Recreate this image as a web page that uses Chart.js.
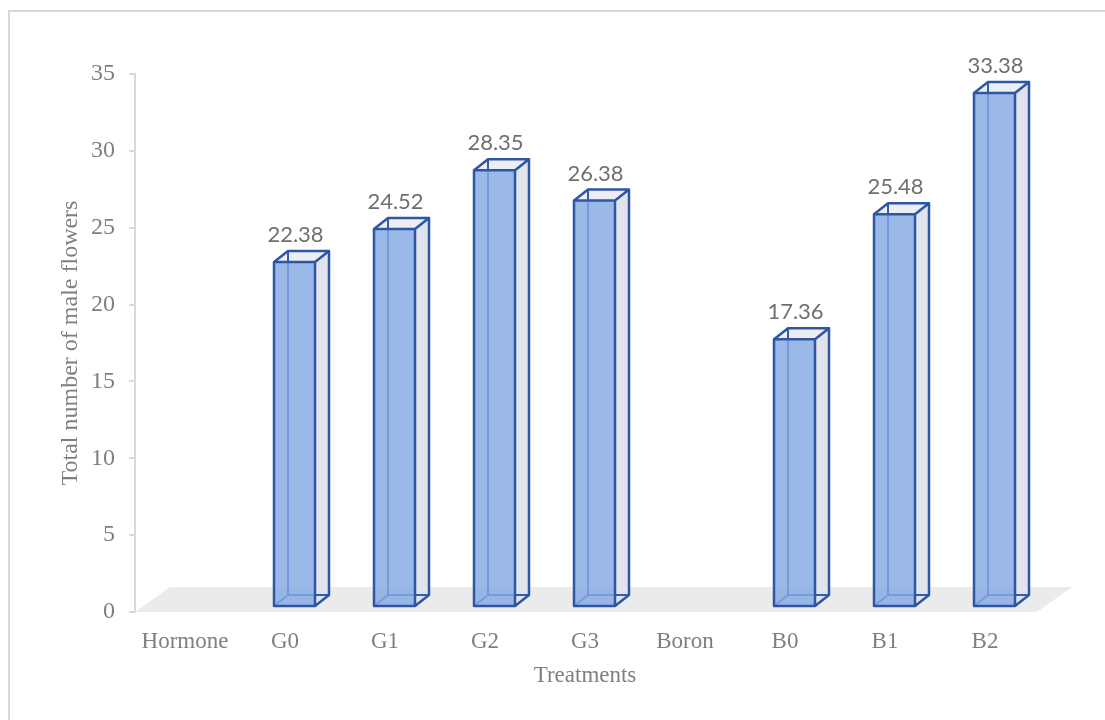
<!DOCTYPE html>
<html>
<head>
<meta charset="utf-8">
<title>Total number of male flowers by treatment</title>
<script src="https://cdn.jsdelivr.net/npm/chart.js@4.4.1/dist/chart.umd.min.js"></script>
<style>
  html, body { margin: 0; padding: 0; background: #ffffff; }
  #wrap { position: relative; width: 1105px; height: 720px; overflow: hidden; }
  #frame { position: absolute; left: 8px; top: 10px; width: 1200px; height: 800px;
           border: 2px solid #d9d9d9; box-sizing: border-box; pointer-events: none; }
  canvas { position: absolute; left: 0; top: 0; }
</style>
</head>
<body>
<div id="wrap">
  <div id="frame"></div>
  <canvas id="chart" width="1105" height="720"></canvas>
</div>
<script>
// Treatments on the x axis; the group headings carry no bar
const categories = ['Hormone', 'G0', 'G1', 'G2', 'G3', 'Boron', 'B0', 'B1', 'B2'];
const maleFlowers = [null, 22.38, 24.52, 28.35, 26.38, null, 17.36, 25.48, 33.38];
const yTicks = [0, 5, 10, 15, 20, 25, 30, 35];

const serif = '"Liberation Serif", "Times New Roman", serif';
const axisGray = '#7f7f7f';

// Draws the grey floor and the oblique 3D boxes on top of the library's bar geometry
const columns3d = {
  id: 'columns3d',
  beforeDatasetsDraw(chart) {
    const { ctx, chartArea: a, scales: { x, y } } = chart;
    const base = y.getPixelForValue(0);
    const cw = x.getPixelForValue(1) - x.getPixelForValue(0);
    const depthX = 0.35 * cw, depthY = 0.25 * cw;
    ctx.save();
    ctx.fillStyle = '#ebebeb';
    ctx.beginPath();
    ctx.moveTo(a.left, base);
    ctx.lineTo(a.right + 2, base);
    ctx.lineTo(a.right + 2 + depthX, base - depthY);
    ctx.lineTo(a.left + depthX, base - depthY);
    ctx.closePath();
    ctx.fill();
    ctx.restore();
  },
  afterDatasetsDraw(chart) {
    const { ctx, scales: { x, y } } = chart;
    const meta = chart.getDatasetMeta(0);
    const values = chart.data.datasets[0].data;
    const cw = x.getPixelForValue(1) - x.getPixelForValue(0);
    const lift = 6;
    const dx = 0.14 * cw, dy = -0.11 * cw;
    ctx.save();
    ctx.lineJoin = 'round';
    meta.data.forEach((el, i) => {
      const v = values[i];
      if (v === null || v === undefined) return;
      const cx = el.x;
      const fl = cx - 0.11 * cw, fr = cx + 0.30 * cw;
      const yt = y.getPixelForValue(v) - lift;
      const yb = y.getPixelForValue(0) - lift;

      // right side face
      ctx.fillStyle = '#e1e4ec';
      ctx.beginPath();
      ctx.moveTo(fr, yt); ctx.lineTo(fr + dx, yt + dy);
      ctx.lineTo(fr + dx, yb + dy); ctx.lineTo(fr, yb);
      ctx.closePath(); ctx.fill();

      // top face
      ctx.fillStyle = '#eceef4';
      ctx.beginPath();
      ctx.moveTo(fl, yt); ctx.lineTo(fl + dx, yt + dy);
      ctx.lineTo(fr + dx, yt + dy); ctx.lineTo(fr, yt);
      ctx.closePath(); ctx.fill();

      // back edges seen through the translucent front
      ctx.strokeStyle = '#2f5cb5';
      ctx.lineWidth = 2;
      ctx.beginPath();
      ctx.moveTo(fl + dx, yt + dy); ctx.lineTo(fl + dx, yb + dy);
      ctx.lineTo(fr + dx, yb + dy);
      ctx.moveTo(fl, yb); ctx.lineTo(fl + dx, yb + dy);
      ctx.stroke();

      // front face
      ctx.fillStyle = 'rgba(132, 169, 228, 0.82)';
      ctx.fillRect(fl, yt, fr - fl, yb - yt);

      // visible outline
      ctx.strokeStyle = '#2f56a3';
      ctx.lineWidth = 2.5;
      ctx.beginPath();
      ctx.rect(fl, yt, fr - fl, yb - yt);
      ctx.moveTo(fl, yt); ctx.lineTo(fl + dx, yt + dy);
      ctx.lineTo(fr + dx, yt + dy); ctx.lineTo(fr, yt);
      ctx.moveTo(fr + dx, yt + dy); ctx.lineTo(fr + dx, yb + dy);
      ctx.lineTo(fr, yb);
      ctx.stroke();

      // value label
      ctx.fillStyle = '#6f6f6f';
      ctx.font = '22px Lato, "Open Sans", sans-serif';
      ctx.textAlign = 'center';
      ctx.textBaseline = 'alphabetic';
      ctx.fillText(v.toFixed(2), (fl + fr) / 2 + 1, yt + dy - 9);
    });
    ctx.restore();
  }
};

new Chart(document.getElementById('chart'), {
  type: 'bar',
  data: {
    labels: categories,
    datasets: [{
      label: 'Total number of male flowers',
      data: maleFlowers,
      backgroundColor: 'rgba(0,0,0,0)',
      borderWidth: 0
    }]
  },
  options: {
    responsive: false,
    animation: false,
    devicePixelRatio: 1,
    layout: { padding: { left: 0, right: 70, top: 74, bottom: 0 } },
    plugins: { legend: { display: false }, tooltip: { enabled: false } },
    scales: {
      x: {
        grid: { display: false, drawTicks: false },
        border: { display: false },
        ticks: { color: axisGray, font: { family: serif, size: 23 }, padding: 16, maxRotation: 0 },
        title: { display: true, text: 'Treatments', color: axisGray,
                 font: { family: serif, size: 23 }, padding: { top: 0, bottom: 30 } },
        afterFit(s) { s.height = 108; }
      },
      y: {
        min: 0, max: 35,
        afterBuildTicks(s) { s.ticks = yTicks.map(v => ({ value: v })); },
        grid: { display: true, drawOnChartArea: false, drawTicks: true, tickLength: 6, color: '#d9d9d9', lineWidth: 2 },
        border: { display: true, color: '#d9d9d9', width: 2 },
        ticks: { color: axisGray, font: { family: serif, size: 24 }, padding: 14 },
        title: { display: true, text: 'Total number of male flowers', color: axisGray,
                 font: { family: serif, size: 24 }, padding: { top: 56, bottom: 0 } },
        afterFit(s) { s.width = 135; }
      }
    }
  },
  plugins: [columns3d]
});
</script>
</body>
</html>
